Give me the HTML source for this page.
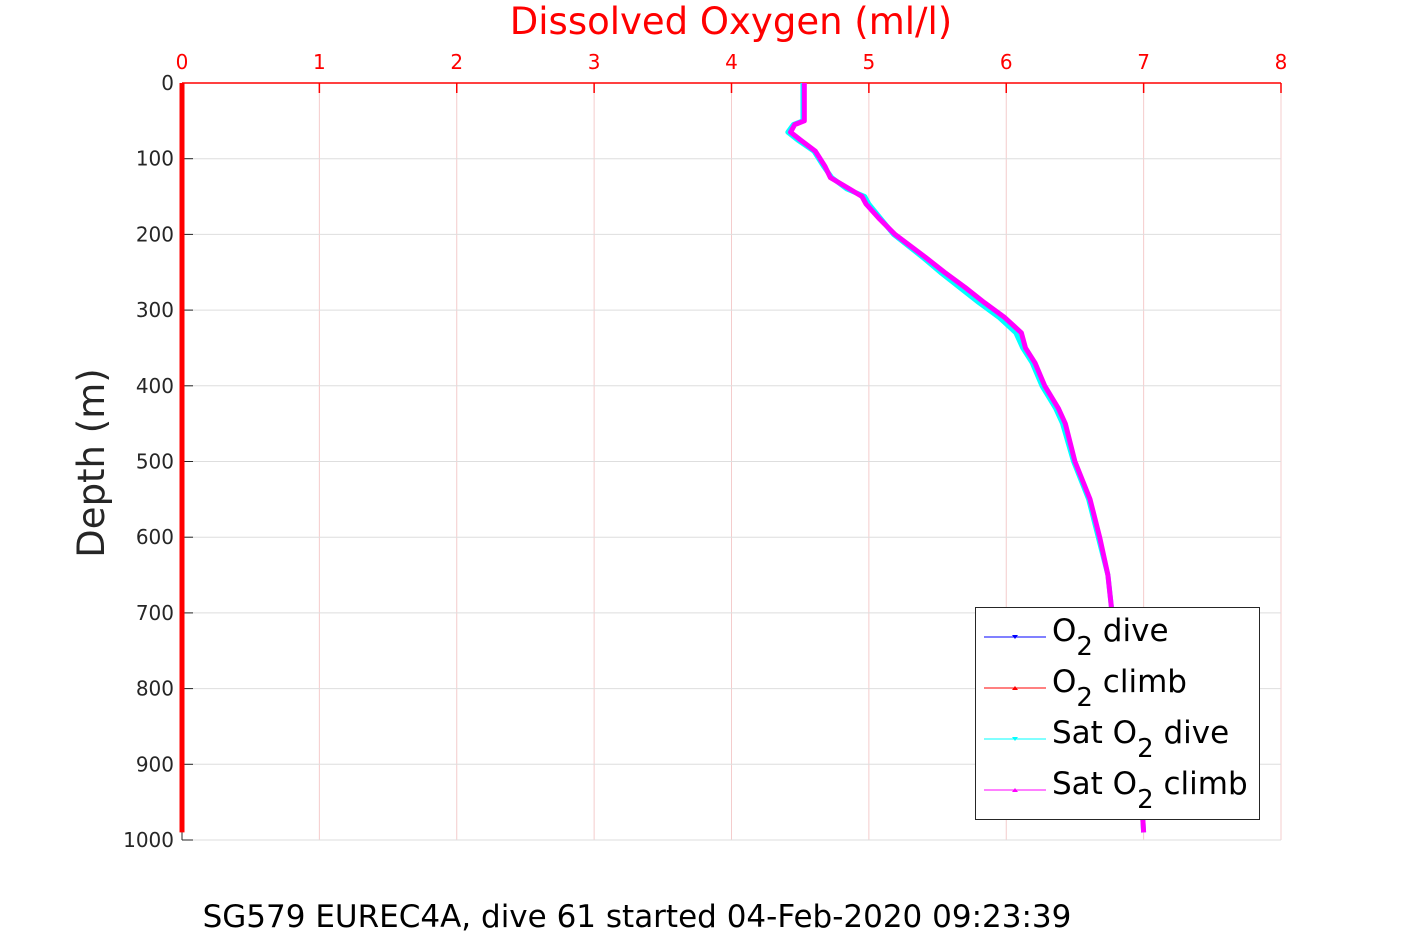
<!DOCTYPE html>
<html><head><meta charset="utf-8">
<style>
body{margin:0;background:#fff;font-family:"DejaVu Sans","Liberation Sans",sans-serif;}
svg text{font-family:"DejaVu Sans","Liberation Sans",sans-serif;}
</style></head>
<body>
<svg id="chart" width="1417" height="945" xmlns="http://www.w3.org/2000/svg">
<rect width="1417" height="945" fill="#fff"/>
<g id="grid"></g>
<g id="axes"></g>
<g id="series"></g>
<text x="731" y="34" font-size="37" fill="#ff0000" text-anchor="middle">Dissolved Oxygen (ml/l)</text>
<text transform="translate(104,463) rotate(-90)" font-size="37" fill="#262626" text-anchor="middle">Depth (m)</text>
<text x="637" y="927" font-size="31" fill="#000" text-anchor="middle">SG579 EUREC4A, dive 61 started 04-Feb-2020 09:23:39</text>
<g>
<rect x="975.5" y="607.5" width="284" height="212" fill="#fff" stroke="#262626" stroke-width="1"/>
<line x1="984" y1="637" x2="1046" y2="637" stroke="#0000ff"/><path d="M1012,635 l6,0 l-3,4z" fill="#0000ff"/>
<text x="1052" y="641" font-size="31">O<tspan font-size="26" dy="14">2</tspan><tspan dy="-14"> dive</tspan></text>
<line x1="984" y1="688" x2="1046" y2="688" stroke="#ff0000"/><path d="M1012,690 l6,0 l-3,-4z" fill="#ff0000"/>
<text x="1052" y="692" font-size="31">O<tspan font-size="26" dy="14">2</tspan><tspan dy="-14"> climb</tspan></text>
<line x1="984" y1="739" x2="1046" y2="739" stroke="#00ffff"/><path d="M1012,737 l6,0 l-3,4z" fill="#00ffff"/>
<text x="1052" y="743" font-size="31">Sat O<tspan font-size="26" dy="14">2</tspan><tspan dy="-14"> dive</tspan></text>
<line x1="984" y1="790" x2="1046" y2="790" stroke="#ff00ff"/><path d="M1012,792 l6,0 l-3,-4z" fill="#ff00ff"/>
<text x="1052" y="794" font-size="31">Sat O<tspan font-size="26" dy="14">2</tspan><tspan dy="-14"> climb</tspan></text>
</g>
</svg>
<script>
const xTicks=[0,1,2,3,4,5,6,7,8];
const yTicks=[0,100,200,300,400,500,600,700,800,900,1000];
const depths=[0,50,55,65,75,90,110,125,140,150,160,180,200,230,250,270,290,310,330,350,370,400,430,450,500,550,600,650,700,800,900,960,990];
const satClimb=[4.53,4.53,4.46,4.43,4.50,4.61,4.68,4.72,4.86,4.95,4.98,5.08,5.19,5.41,5.55,5.70,5.84,5.99,6.11,6.14,6.21,6.28,6.38,6.43,6.50,6.61,6.68,6.74,6.77,6.86,6.95,6.99,7.0];
const satDive=[4.52,4.52,4.45,4.41,4.48,4.60,4.67,4.73,4.84,4.97,5.00,5.09,5.18,5.39,5.52,5.66,5.80,5.95,6.07,6.12,6.19,6.26,6.36,6.41,6.49,6.60,6.67,6.74,6.77,6.86,6.95,6.99,7.0];
const o2Depths=[0,990];
const o2Climb=[0,0];
const x0=182,x1=1281,y0=83,y1=840;
const X=v=>x0+(v-0)/(8-0)*(x1-x0);
const Y=d=>y0+d/1000*(y1-y0);
const NS="http://www.w3.org/2000/svg";
function mk(tag,attrs,parent){const e=document.createElementNS(NS,tag);for(const k in attrs)e.setAttribute(k,attrs[k]);document.getElementById(parent).appendChild(e);return e;}
xTicks.forEach(t=>{
 const g=mk('line',{x1:X(t),x2:X(t),y1:y0,y2:y1,stroke:'#f4cccc','stroke-width':1},'grid');
 
 
 const tk=mk('line',{x1:X(t),x2:X(t),y1:y0,y2:y0+10,stroke:'#ff0000','stroke-width':1.5},'axes');
 
 
 const tx=mk('text',{x:X(t),y:y0-14,'font-size':20,fill:'#ff0000','text-anchor':'middle'},'axes');
 tx.textContent=t;
 
 
});
yTicks.forEach(t=>{
 const g=mk('line',{x1:x0,x2:x1,y1:Y(t),y2:Y(t),stroke:'#dedede','stroke-width':1},'grid');
 
 
 const tk=mk('line',{x1:x0,x2:x0+11,y1:Y(t),y2:Y(t),stroke:'#262626','stroke-width':1},'axes');
 
 
 const tx=mk('text',{x:x0-8,y:Y(t)+7,'font-size':20,fill:'#262626','text-anchor':'end'},'axes');
 tx.textContent=t;
 
 
});
const topAxis=mk('line',{x1:x0,x2:x1,y1:y0,y2:y0,stroke:'#ff0000','stroke-width':1.5},'axes');


const leftAxis=mk('line',{x1:x0,x2:x0,y1:y0,y2:y1,stroke:'#262626','stroke-width':1},'axes');


function drawLine(vals,ds,color,w,name){
 const p=mk('polyline',{points:vals.map((v,i)=>X(v)+','+Y(ds[i])).join(' '),fill:'none',stroke:color,'stroke-width':w,'stroke-linejoin':'round'},'series');
 
 
}
drawLine(satDive,depths,'#00ffff',5,'sat-o2-dive-line');
drawLine(satClimb,depths,'#ff00ff',5,'sat-o2-climb-line');
drawLine(o2Climb,o2Depths,'#ff0000',5,'o2-climb-line');
</script>
</body></html>
